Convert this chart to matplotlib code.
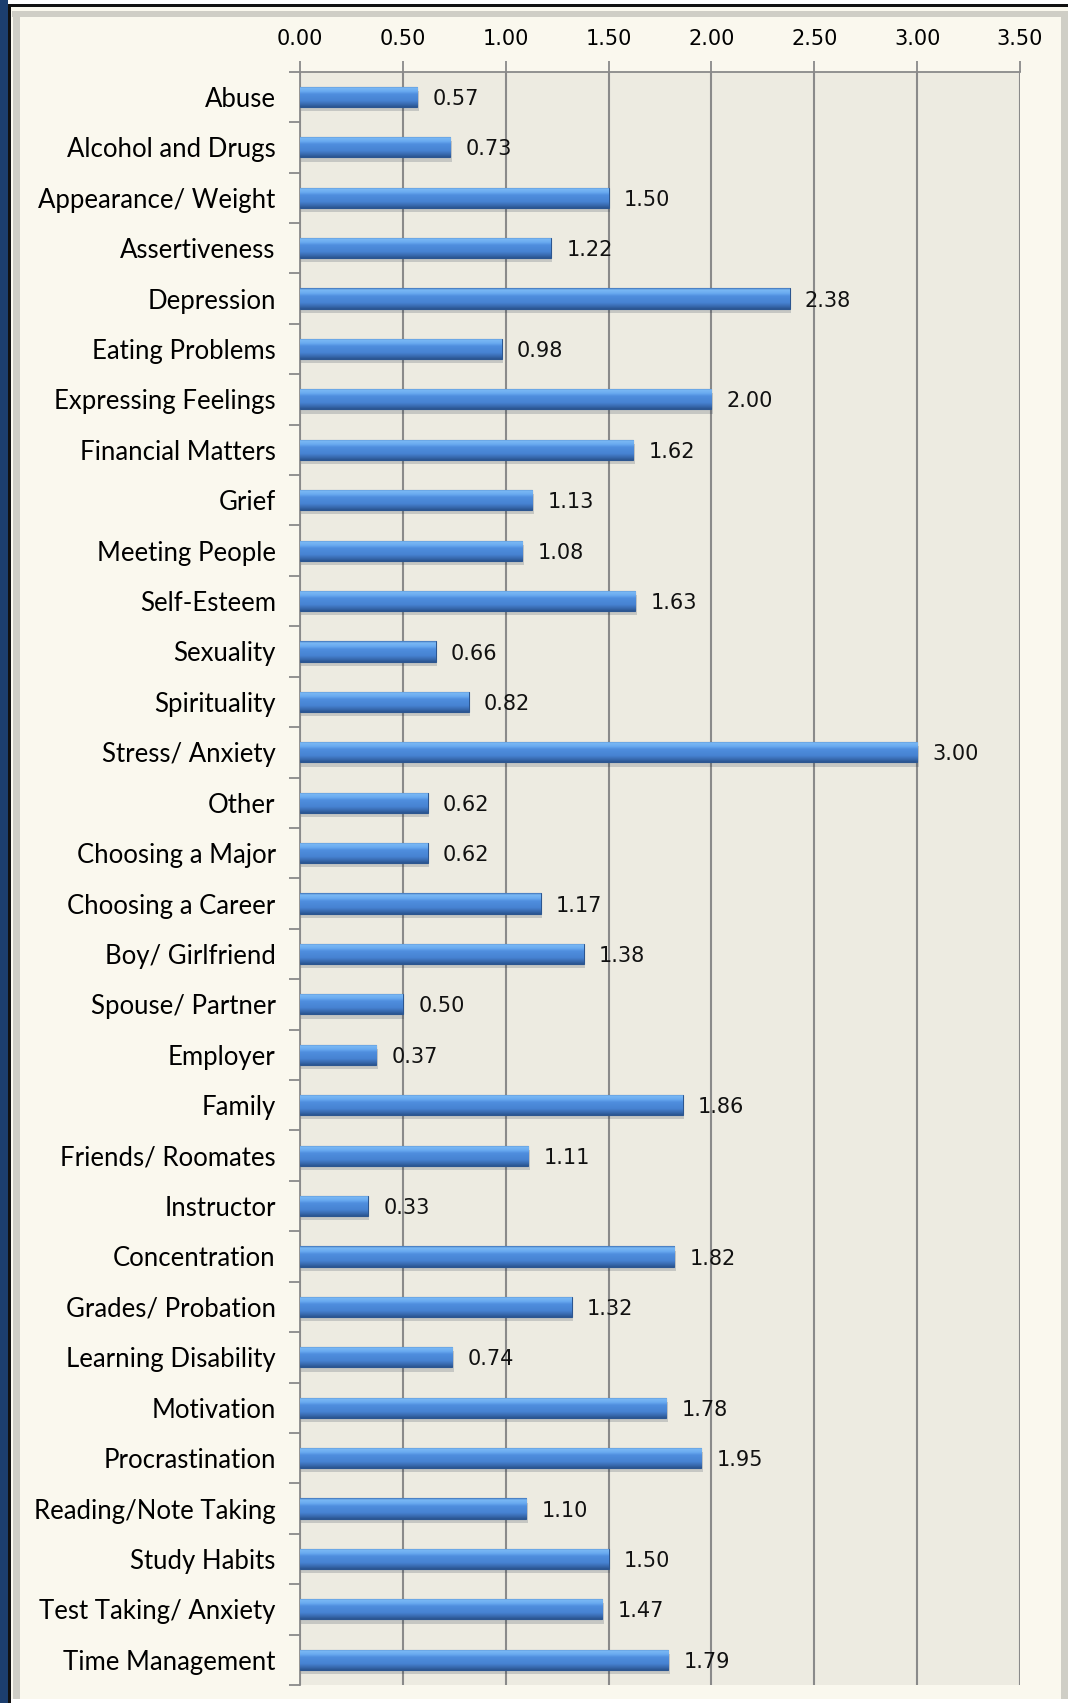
import numpy as np
import matplotlib.pyplot as plt
import matplotlib.patheffects as pe
from matplotlib.colors import LinearSegmentedColormap
from matplotlib.patches import Rectangle

categories = [
    "Abuse", "Alcohol and Drugs", "Appearance/ Weight", "Assertiveness",
    "Depression", "Eating Problems", "Expressing Feelings", "Financial Matters",
    "Grief", "Meeting People", "Self-Esteem", "Sexuality", "Spirituality",
    "Stress/ Anxiety", "Other", "Choosing a Major", "Choosing a Career",
    "Boy/ Girlfriend", "Spouse/ Partner", "Employer", "Family",
    "Friends/ Roomates", "Instructor", "Concentration", "Grades/ Probation",
    "Learning Disability", "Motivation", "Procrastination",
    "Reading/Note Taking", "Study Habits", "Test Taking/ Anxiety",
    "Time Management",
]
values = [
    0.57, 0.73, 1.50, 1.22, 2.38, 0.98, 2.00, 1.62, 1.13, 1.08, 1.63, 0.66,
    0.82, 3.00, 0.62, 0.62, 1.17, 1.38, 0.50, 0.37, 1.86, 1.11, 0.33, 1.82,
    1.32, 0.74, 1.78, 1.95, 1.10, 1.50, 1.47, 1.79,
]
x_ticks = [0.0, 0.5, 1.0, 1.5, 2.0, 2.5, 3.0, 3.5]

W, H = 1068, 1703
fig = plt.figure(figsize=(W / 100, H / 100), dpi=100)
fig.patch.set_facecolor("white")

# frame decoration (figure pixel coords from the top-left)
def frect(x0, y0, x1, y1, color):
    fig.patches.append(Rectangle((x0 / W, 1 - y1 / H), (x1 - x0) / W, (y1 - y0) / H,
                                 transform=fig.transFigure, facecolor=color,
                                 edgecolor="none", zorder=-5))

frect(9, 5, W, 1699, "#faf8ee")
frect(12, 11, W, 17, "#cfcec6")
frect(13, 11, 20, 1699, "#cfcec6")
frect(1061, 11, W, 1699, "#cfcec6")
frect(0, 0, 8, H, "#1c3e6e")
frect(8, 4, W, 7, "#111111")
frect(8, 4, 11, H, "#111111")

ax = fig.add_axes([300 / W, 1 - 1685 / H, 720 / W, (1685 - 71.7) / H])
ax.set_zorder(1)
ax.set_facecolor("#edebe1")

y = np.arange(len(categories))
bar_h = 0.4
bars = ax.barh(y, values, height=bar_h, color="#4a86d6",
               edgecolor="#2c5690", linewidth=0.8, zorder=3)
for b in bars.patches:
    b.set_path_effects([pe.SimplePatchShadow(offset=(1, -3), alpha=0.18),
                        pe.Normal()])

# vertical gradient on each bar
cmap = LinearSegmentedColormap.from_list("bar", [
    (0.0, "#3f73b8"), (0.08, "#7ab8f4"), (0.25, "#69aaf0"),
    (0.38, "#4f8ede"), (0.7, "#4783d2"), (0.86, "#3a6cb2"), (1.0, "#2b5590")])
grad = np.linspace(0, 1, 64).reshape(-1, 1)
for yi, v, patch in zip(y, values, bars.patches):
    im = ax.imshow(grad, cmap=cmap, aspect="auto", origin="upper",
                   extent=(0, v, yi + bar_h / 2, yi - bar_h / 2),
                   interpolation="bilinear", zorder=3.5)
    im.set_clip_path(patch)

# value labels
for yi, v in zip(y, values):
    ax.annotate(f"{v:.2f}", (v, yi), xytext=(11, -1.5), textcoords="offset points",
                va="center", ha="left", fontsize=15, family="DejaVu Sans",
                color="#111111", zorder=5)

ax.set_xlim(0, 3.5)
ax.set_ylim(len(categories) - 0.5, -0.5)
ax.set_xticks(x_ticks)
ax.set_xticklabels([f"{t:.2f}" for t in x_ticks], fontsize=15, family="DejaVu Sans")
ax.xaxis.tick_top()
ax.tick_params(axis="x", length=8, width=1.3, color="#8a8a8a", pad=8.5)

ax.set_yticks(y)
ax.set_yticklabels(categories, fontsize=18.5, family="Lato")
ax.tick_params(axis="y", length=0, pad=17.5)
ax.set_yticks(np.arange(len(categories) + 1) - 0.5, minor=True)
ax.tick_params(axis="y", which="minor", length=8, width=1.3, color="#8a8a8a")

ax.grid(axis="x", color="#8a8a8a", linewidth=1.5, zorder=1)
ax.set_axisbelow(True)
for s in ["right", "bottom"]:
    ax.spines[s].set_visible(False)
for s in ["left", "top"]:
    ax.spines[s].set_color("#8a8a8a")
    ax.spines[s].set_linewidth(1.3)

fig.savefig("out.png", dpi=100)
